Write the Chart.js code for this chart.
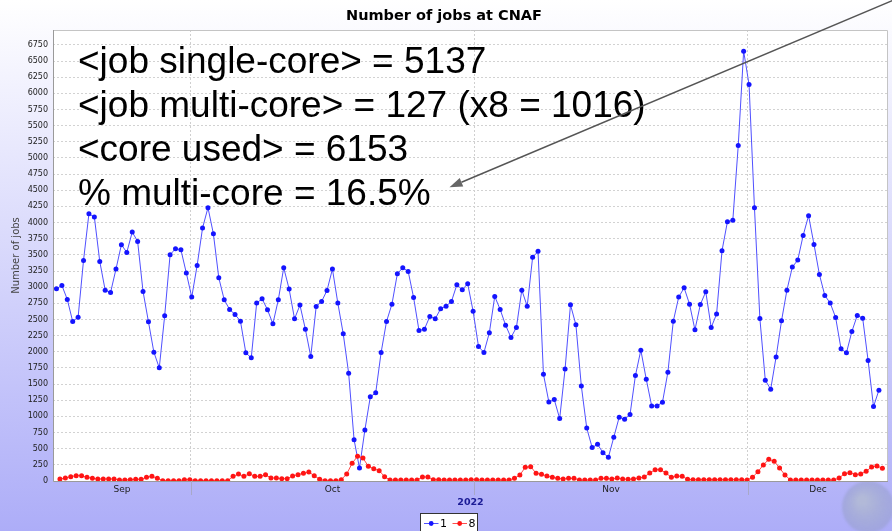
<!DOCTYPE html>
<html><head><meta charset="utf-8">
<script src="https://cdn.jsdelivr.net/npm/chart.js@4.4.1/dist/chart.umd.min.js"></script>
<style>html,body{margin:0;padding:0;overflow:hidden;background:#fff}#wrap{width:892px;height:531px;position:relative}canvas{display:block}</style>
</head><body><div id="wrap"><canvas id="c" width="892" height="531"></canvas></div>
<script>
// ---- data ----
const chartTitle = 'Number of jobs at CNAF';
const yTitle = 'Number of jobs';
const seriesLabels = ['1', '8'];
const monthNames = ['Sep', 'Oct', 'Nov', 'Dec'];
const monthStarts = [30, 61, 91];          // days since 1 Sep 2022 of 1 Oct, 1 Nov, 1 Dec
const yearLabel = '2022';
const dayMin = 14.89, dayMax = 106.34;     // visible time range (days since 1 Sep 2022)
const start1 = 15.27, start8 = 15.65, sampleStep = 0.5926; // sample times (days)
const yTickStep = 250, yTickMax = 6750, yAxisMax = 6980;

const jobs1 = [2975,3027,2810,2469,2536,3414,4137,4086,3399,2954,2918,3280,3657,3538,3853,3708,2934,2464,1994,1751,
  2557,3502,3595,3579,3218,2846,3337,3915,4230,3827,3145,2805,2655,2577,2474,1983,1906,2753,2820,2650,
  2433,2805,3300,2970,2510,2722,2350,1927,2701,2779,2949,3280,2753,2278,1668,640,201,790,1302,1364,
  1989,2469,2737,3207,3300,3244,2841,2329,2350,2546,2510,2665,2706,2779,3037,2960,3053,2629,2081,1989,
  2293,2856,2655,2412,2221,2376,2954,2706,3461,3554,1653,1224,1260,966,1735,2727,2417,1472,821,517,
  568,439,367,677,987,956,1028,1632,2025,1575,1162,1162,1219,1684,2474,2846,2990,2737,2340,2732,
  2929,2376,2583,3564,4013,4034,5191,6653,6137,4230,2515,1560,1420,1921,2479,2954,3311,3419,3801,4106,
  3662,3197,2872,2753,2531,2045,1983,2314,2562,2520,1865,1152,1405];

const jobs8 = [31,46,67,83,83,57,41,31,31,31,31,15,15,21,26,26,57,72,41,5,
  5,5,5,21,21,5,5,5,5,5,5,5,72,108,72,113,72,72,98,46,
  46,36,36,77,98,119,139,83,26,5,5,5,21,108,274,382,356,227,191,160,
  67,15,15,15,15,15,15,62,62,21,21,15,15,15,15,15,21,21,15,15,
  15,15,15,15,41,93,212,222,119,103,77,57,41,31,41,41,15,15,15,15,
  41,41,31,46,31,26,31,46,62,124,176,176,124,57,77,72,26,21,21,21,
  21,21,21,21,21,21,21,15,57,145,248,336,305,201,93,15,15,15,15,15,
  15,15,15,15,46,113,129,98,108,150,217,232,196];

const notes = ['<job single-core> = 5137', '<job multi-core> = 127 (x8 = 1016)', '<core used> = 6153', '% multi-core = 16.5%'];

// ---- derived ----
const pts1 = jobs1.map((v, i) => ({x: start1 + i * sampleStep, y: v}));
const pts8 = jobs8.map((v, i) => ({x: start8 + i * sampleStep, y: v}));
const bounds = [dayMin, ...monthStarts, dayMax];
const monthCenters = monthNames.map((m, i) => (bounds[i] + bounds[i + 1]) / 2);
const isBoundary = v => monthStarts.some(b => Math.abs(b - v) < 1e-6);

const BLUE = '#1414ff', BLUE_L = '#5050ff', RED = '#ff1414', RED_L = '#ff4d4d';

const bgPlugin = {
  id: 'bg',
  beforeDraw(chart) {
    const {ctx, chartArea: a, width, height} = chart;
    ctx.save();
    const g = ctx.createLinearGradient(0, 0, 0, height);
    g.addColorStop(0, '#ffffff');
    g.addColorStop(1, '#adadf8');
    ctx.fillStyle = g;
    ctx.fillRect(0, 0, width, height);
    // decorative globe of the slide
    const rg = ctx.createRadialGradient(862, 500, 4, 868, 507, 27);
    rg.addColorStop(0, 'rgba(178,186,214,0.95)');
    rg.addColorStop(1, 'rgba(150,158,205,0.55)');
    ctx.filter = 'blur(1px)';
    ctx.fillStyle = rg;
    ctx.beginPath(); ctx.arc(868, 507, 26, 0, Math.PI * 2); ctx.fill();
    ctx.filter = 'none';
    ctx.fillStyle = '#ffffff';
    ctx.fillRect(a.left, a.top, a.right - a.left, a.bottom - a.top);
    ctx.restore();
  }
};

const framePlugin = {
  id: 'frame',
  beforeDatasetsDraw(chart) {
    const {ctx, chartArea: a, scales} = chart;
    ctx.save();
    ctx.lineWidth = 1;
    ctx.strokeStyle = '#c4c4c4';
    ctx.beginPath();
    ctx.moveTo(a.left, a.top + 0.5); ctx.lineTo(a.right - 0.5, a.top + 0.5); ctx.lineTo(a.right - 0.5, a.bottom);
    ctx.stroke();
    ctx.strokeStyle = '#9a9a9a';
    ctx.beginPath();
    ctx.moveTo(a.left + 0.5, a.top); ctx.lineTo(a.left + 0.5, a.bottom + 0.5); ctx.lineTo(a.right, a.bottom + 0.5);
    ctx.stroke();
    // month boundary marks below the axis
    ctx.strokeStyle = '#a8a8c8';
    monthStarts.forEach(d => {
      const x = Math.round(scales.x.getPixelForValue(d)) + 0.5;
      ctx.beginPath(); ctx.moveTo(x, a.bottom); ctx.lineTo(x, a.bottom + 14); ctx.stroke();
    });
    ctx.restore();
  }
};

const overlayPlugin = {
  id: 'overlay',
  afterDraw(chart) {
    const {ctx} = chart;
    ctx.save();
    // legend
    const ly = 523;
    ctx.fillStyle = '#ffffff';
    ctx.fillRect(420.5, 513.5, 57, 22);
    ctx.strokeStyle = '#333';
    ctx.lineWidth = 1;
    ctx.strokeRect(420.5, 513.5, 57, 22);
    const items = [{c: BLUE, l: BLUE_L, x0: 424, t: seriesLabels[0]}, {c: RED, l: RED_L, x0: 452.5, t: seriesLabels[1]}];
    ctx.font = '11px "DejaVu Sans"';
    ctx.textBaseline = 'middle';
    items.forEach(it => {
      ctx.strokeStyle = it.l; ctx.lineWidth = 1;
      ctx.beginPath(); ctx.moveTo(it.x0, ly + 0.5); ctx.lineTo(it.x0 + 14.5, ly + 0.5); ctx.stroke();
      ctx.fillStyle = it.c;
      ctx.beginPath(); ctx.arc(it.x0 + 7.2, ly + 0.5, 2.4, 0, Math.PI * 2); ctx.fill();
      ctx.fillStyle = '#000';
      ctx.fillText(it.t, it.x0 + 16, ly + 1);
    });
    // annotation text
    ctx.fillStyle = '#000';
    ctx.textBaseline = 'alphabetic';
    ctx.font = '37px "Liberation Sans"';
    const baselines = [73, 117, 161, 205];
    notes.forEach((t, i) => ctx.fillText(t, 78, baselines[i]));
    // arrow
    const tail = {x: 893, y: 0.3}, tip = {x: 449.5, y: 187.3};
    const dx = tip.x - tail.x, dy = tip.y - tail.y, len = Math.hypot(dx, dy);
    const ux = dx / len, uy = dy / len, hl = 13, hw = 4.5;
    const bx = tip.x - ux * hl, by = tip.y - uy * hl;
    ctx.strokeStyle = '#555';
    ctx.lineWidth = 1.4;
    ctx.beginPath(); ctx.moveTo(tail.x, tail.y); ctx.lineTo(bx, by); ctx.stroke();
    ctx.fillStyle = '#666';
    ctx.beginPath();
    ctx.moveTo(tip.x, tip.y);
    ctx.lineTo(bx - uy * hw, by + ux * hw);
    ctx.lineTo(bx + uy * hw, by - ux * hw);
    ctx.closePath(); ctx.fill();
    ctx.restore();
  }
};

new Chart(document.getElementById('c'), {
  type: 'line',
  data: {
    datasets: [
      {label: seriesLabels[0], data: pts1, borderColor: BLUE_L, backgroundColor: BLUE, borderWidth: 1,
       pointRadius: 2.5, pointBackgroundColor: BLUE, pointBorderWidth: 0, tension: 0, order: 1},
      {label: seriesLabels[1], data: pts8, borderColor: RED_L, backgroundColor: RED, borderWidth: 1,
       pointRadius: 2.5, pointBackgroundColor: RED, pointBorderWidth: 0, tension: 0, order: 0}
    ]
  },
  options: {
    responsive: false,
    devicePixelRatio: 1,
    animation: false,
    layout: {padding: {left: 0, right: 4, top: 0, bottom: 19}},
    plugins: {
      legend: {display: false},
      tooltip: {enabled: false},
      title: {display: true, text: chartTitle, color: '#000',
        font: {family: 'DejaVu Sans', size: 14.5, weight: 'bold'}, padding: {top: 8, bottom: 4.6}}
    },
    scales: {
      x: {
        type: 'linear', min: dayMin, max: dayMax,
        afterBuildTicks(scale) {
          scale.ticks = [...monthStarts, ...monthCenters].sort((a, b) => a - b).map(v => ({value: v}));
        },
        afterFit(scale) { scale.height = 31; },
        ticks: {
          autoSkip: false, maxRotation: 0, padding: 3.5, color: '#222',
          font: {family: 'DejaVu Sans', size: 9},
          callback(v) { const k = monthCenters.findIndex(c => Math.abs(c - v) < 1e-6); return k >= 0 ? monthNames[k] : ''; }
        },
        grid: {drawTicks: false, lineWidth: 1,
          color: ctx => (ctx.tick && isBoundary(ctx.tick.value)) ? '#cfcfcf' : 'rgba(0,0,0,0)'},
        border: {display: false, dash: [2, 2]},
        title: {display: true, text: yearLabel, color: '#1c1c96',
          font: {family: 'DejaVu Sans', size: 9.5, weight: 'bold'}, padding: {top: 0, bottom: 4}}
      },
      y: {
        min: 0, max: yAxisMax,
        afterFit(scale) { scale.width = 53; },
        afterBuildTicks(scale) {
          const t = [];
          for (let v = 0; v <= yTickMax; v += yTickStep) t.push({value: v});
          scale.ticks = t;
        },
        ticks: {padding: 5, color: '#222', font: {family: 'DejaVu Sans', size: 8}, callback: v => String(v)},
        grid: {drawTicks: false, color: '#d2d2d2', lineWidth: 1},
        border: {display: false, dash: [2, 2]},
        title: {display: true, text: yTitle, color: '#444',
          font: {family: 'DejaVu Sans', size: 10}, padding: {top: 10.5, bottom: 0}}
      }
    }
  },
  plugins: [bgPlugin, framePlugin, overlayPlugin]
});
</script>
</body></html>
